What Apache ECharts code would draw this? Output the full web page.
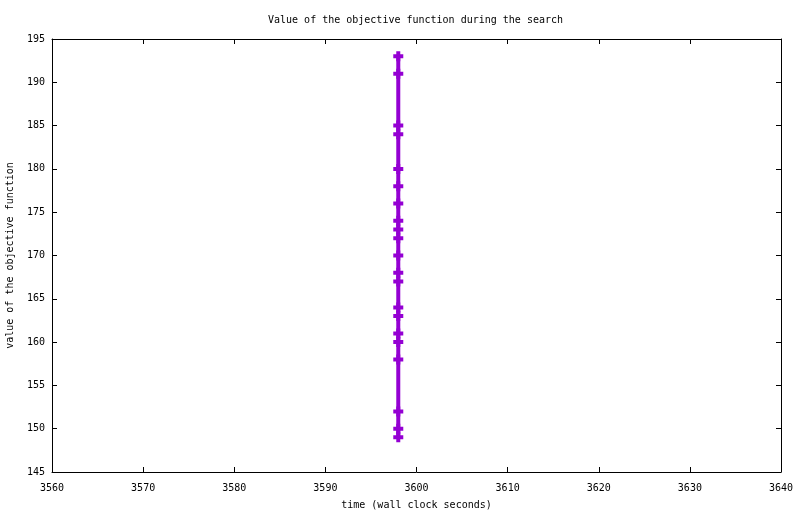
<!DOCTYPE html>
<html>
<head>
<meta charset="utf-8">
<script src="https://cdn.jsdelivr.net/npm/echarts@6/dist/echarts.min.js"></script>
<style>html,body{margin:0;padding:0;background:#fff}#c{width:800px;height:514px}</style>
</head>
<body>
<div id="c"></div>
<script>
const titleText = "Value of the objective function during the search";
const xName = "time (wall clock seconds)";
const yName = "value of the objective function";
const times = [3598,3598,3598,3598,3598,3598,3598,3598,3598,3598,3598,3598,3598,3598,3598,3598,3598,3598,3598,3598,3598];
const values = [193,191,185,184,180,178,176,174,173,172,170,168,167,164,163,161,160,158,152,150,149];
const xTicks = {min:3560, max:3640, interval:10};
const yTicks = {min:145, max:195, interval:5};

const FONT = "DejaVu Sans Mono";
const chart = echarts.init(document.getElementById('c'), null, {renderer:'canvas'});
const axisCommon = {
  axisLine:{show:true, onZero:false, lineStyle:{color:'#000', width:1}},
  axisTick:{show:true, inside:true, length:5, lineStyle:{color:'#000', width:1}},
  splitLine:{show:false}
};
chart.setOption({
  animation:false,
  backgroundColor:'#fff',
  title:{text:titleText, left:268, top:15, padding:0, textStyle:{fontFamily:FONT, fontSize:10, fontWeight:'normal', color:'#000'}},
  grid:{left:52, right:19, top:39, bottom:42, containLabel:false, outerBoundsMode:'none'},
  xAxis:[
    Object.assign({type:'value', position:'bottom', min:xTicks.min, max:xTicks.max, interval:xTicks.interval,
      name:xName, nameLocation:'middle', nameGap:28,
      nameTextStyle:{fontFamily:FONT, fontSize:10, color:'#000'},
      axisLabel:{fontFamily:FONT, fontSize:10, color:'#000', margin:11, formatter:(v)=>String(v)}}, axisCommon),
    Object.assign({type:'value', position:'top', min:xTicks.min, max:xTicks.max, interval:xTicks.interval,
      axisLabel:{show:false}}, axisCommon)
  ],
  yAxis:[
    Object.assign({type:'value', position:'left', min:yTicks.min, max:yTicks.max, interval:yTicks.interval,
      name:yName, nameLocation:'middle', nameGap:37,
      nameTextStyle:{fontFamily:FONT, fontSize:10, color:'#000'},
      axisLabel:{fontFamily:FONT, fontSize:10, color:'#000', margin:7}}, axisCommon),
    Object.assign({type:'value', position:'right', min:yTicks.min, max:yTicks.max, interval:yTicks.interval,
      axisLabel:{show:false}}, axisCommon)
  ],
  series:[{
    type:'line',
    data:times.map((t,i)=>[t, values[i]]),
    lineStyle:{color:'#9400D3', width:4},
    itemStyle:{color:'#9400D3'},
    symbol:'path://M3,0H7V3H10V7H7V10H3V7H0V3H3Z',
    symbolSize:10,
    showAllSymbol:true,
    showSymbol:true
  }]
});
</script>
</body>
</html>
